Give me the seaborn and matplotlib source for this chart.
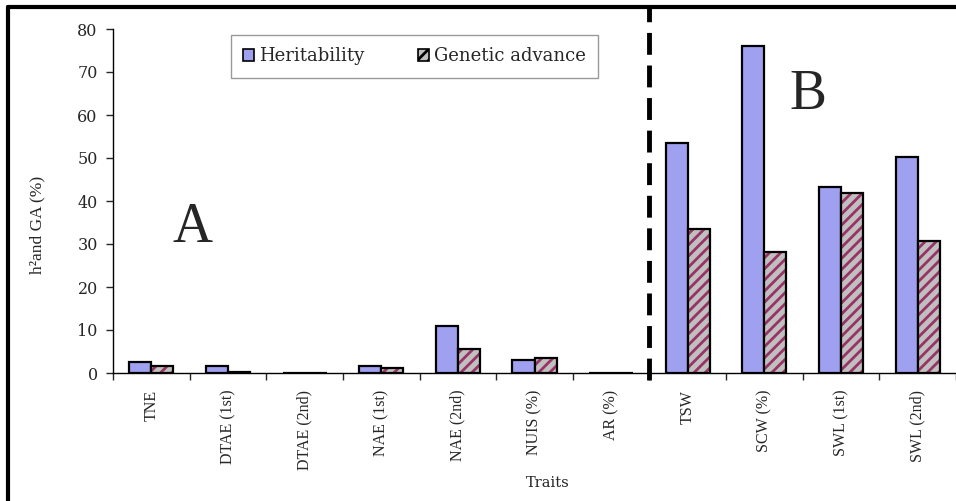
import pandas as pd
import seaborn as sns
import matplotlib.pyplot as plt
from matplotlib.lines import Line2D
from matplotlib.patches import Rectangle

traits = ["TNE", "DTAE (1st)", "DTAE (2nd)", "NAE (1st)", "NAE (2nd)", "NUIS (%)",
          "AR (%)", "TSW", "SCW (%)", "SWL (1st)", "SWL (2nd)"]
heritability = [2.6, 1.7, 0.1, 1.7, 10.9, 3.0, 0.1, 53.6, 76.0, 43.3, 50.2]
genetic_advance = [1.7, 0.15, 0.1, 1.2, 5.5, 3.6, 0.1, 33.4, 28.2, 41.8, 30.8]
series = ["Heritability", "Genetic advance"]

df = pd.DataFrame({
    "trait": traits * 2,
    "value": heritability + genetic_advance,
    "series": [series[0]] * len(traits) + [series[1]] * len(traits),
})

sns.set_style("white")
plt.rcParams["hatch.linewidth"] = 2.0

fig = plt.figure(figsize=(9.56, 5.01), dpi=100)
ax = fig.add_axes([113 / 956, 128 / 501, 1 - 113 / 956, 344 / 501])

sns.barplot(data=df, x="trait", y="value", hue="series", order=traits,
            hue_order=series, palette=["#a0a0f0", "#c0c0c0"], width=0.575,
            saturation=1, edgecolor="black", linewidth=1.6, ax=ax)

# hatch the genetic advance bars in maroon, keep a black outline on top
n = len(traits)
for patch in list(ax.patches)[n:2 * n]:
    patch.set_hatch("///")
    patch.set_edgecolor("#993366")
    patch.set_linewidth(0)
    ax.add_patch(Rectangle(patch.get_xy(), patch.get_width(), patch.get_height(),
                           fill=False, edgecolor="black", linewidth=1.6,
                           zorder=patch.get_zorder() + 0.1))

ax.set_xlim(-0.5, n - 0.5)
ax.set_ylim(0, 80)
ax.set_yticks(range(0, 81, 10))
ax.tick_params(axis="y", labelsize=11.5, length=5, width=1, direction="out", left=True, pad=6)
ax.set_yticklabels([str(v) for v in range(0, 81, 10)], family="DejaVu Serif")

ax.set_xticks([i + 0.5 for i in range(-1, n)], minor=True)
ax.set_xticks(range(n))
ax.set_xticklabels(traits, rotation=90, family="Liberation Serif", fontsize=11.5)
ax.tick_params(axis="x", which="major", length=0, pad=12)
ax.tick_params(axis="x", which="minor", length=5, width=1, direction="out", bottom=True)

for side in ["top", "right"]:
    ax.spines[side].set_visible(False)
for side in ["left", "bottom"]:
    ax.spines[side].set_color("black")
    ax.spines[side].set_linewidth(1)

ax.set_xlabel("Traits", family="DejaVu Serif", fontsize=10.5)
ax.xaxis.set_label_coords(0.516, -0.30)
ax.set_ylabel("h²and GA (%)", family="Liberation Serif", fontsize=12.5)
ax.yaxis.set_label_coords(-0.08, 0.43)

ax.axvline(6.5, ymin=-0.02, ymax=1.065, color="black", lw=3.5,
           dashes=(4.5, 2.2), clip_on=False)

ax.text(0.54, 33.7, "A", fontsize=40, family="Liberation Serif", ha="center", va="center")
ax.text(8.57, 64.6, "B", fontsize=40, family="Liberation Serif", ha="center", va="center")

leg = ax.legend(loc="upper left", bbox_to_anchor=(0.129, 1.01), ncol=2, frameon=True,
                fancybox=False, edgecolor="#808080", handlelength=0.6, handleheight=0.6,
                handletextpad=0.25, columnspacing=3.0, borderpad=0.7,
                prop={"family": "DejaVu Serif", "size": 13})
leg.get_frame().set_linewidth(1)
for h in leg.legend_handles:
    h.set_linewidth(1.2)
    h.set_edgecolor("black")
leg.legend_handles[1].set_hatch("///")

fig.add_artist(Line2D([8 / 956, 1], [1 - 7 / 501, 1 - 7 / 501], color="black", lw=3))
fig.add_artist(Line2D([8 / 956, 8 / 956], [0, 1 - 7 / 501], color="black", lw=3))

fig.savefig("out.png", dpi=100)
